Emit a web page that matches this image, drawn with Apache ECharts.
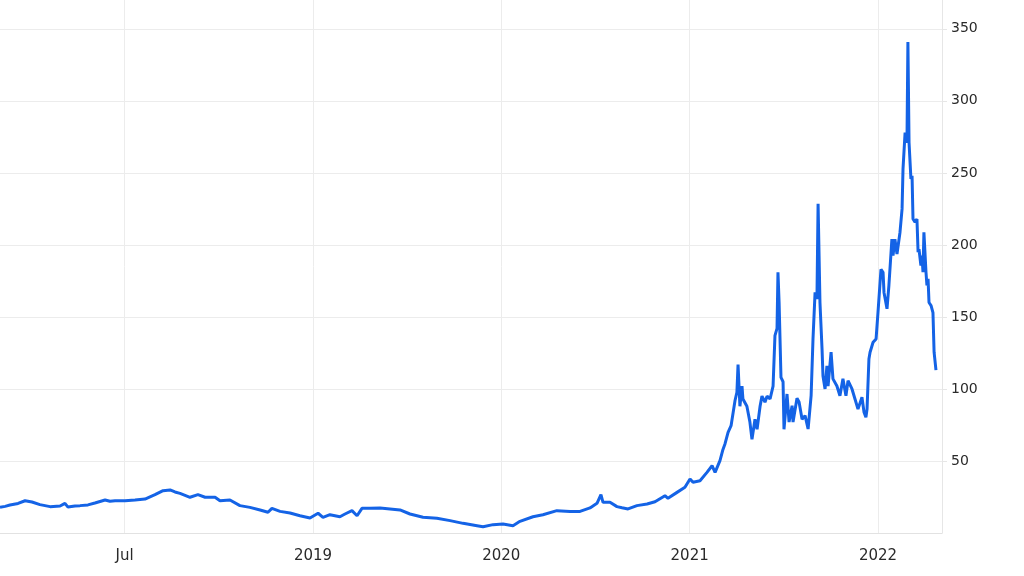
<!DOCTYPE html>
<html>
<head>
<meta charset="utf-8">
<script src="https://cdn.jsdelivr.net/npm/echarts@6/dist/echarts.min.js"></script>
<style>
html,body{margin:0;padding:0;background:#fff;}
#chart{width:1024px;height:576px;}
</style>
</head>
<body>
<div id="chart"></div>
<script>
// time in fractional years
const times = [
2017.338,2017.365,2017.391,2017.434,2017.471,2017.508,2017.550,2017.604,2017.657,2017.683,
2017.699,2017.736,2017.763,2017.805,2017.842,2017.896,2017.922,2017.949,2018.002,2018.055,
2018.108,2018.161,2018.204,2018.241,2018.267,2018.294,2018.347,2018.389,2018.427,2018.480,
2018.506,2018.559,2018.612,2018.665,2018.719,2018.761,2018.782,2018.825,2018.878,2018.931,
2018.984,2019.027,2019.053,2019.090,2019.143,2019.170,2019.207,2019.234,2019.260,2019.303,
2019.356,2019.409,2019.462,2019.515,2019.584,2019.658,2019.728,2019.797,2019.871,2019.903,
2019.956,2020.009,2020.062,2020.099,2020.168,2020.221,2020.295,2020.365,2020.418,2020.471,
2020.508,2020.529,2020.540,2020.577,2020.614,2020.641,2020.673,2020.720,2020.774,2020.816,
2020.869,2020.885,2020.933,2020.975,2021.002,2021.018,2021.055,2021.092,2021.119,2021.135,
2021.161,2021.177,2021.188,2021.204,2021.220,2021.230,2021.241,2021.251,2021.257,2021.267,
2021.278,2021.283,2021.304,2021.320,2021.331,2021.347,2021.358,2021.374,2021.384,2021.400,
2021.411,2021.427,2021.443,2021.453,2021.464,2021.469,2021.475,2021.485,2021.496,2021.501,
2021.517,2021.528,2021.544,2021.549,2021.570,2021.581,2021.597,2021.613,2021.629,2021.645,
2021.655,2021.666,2021.676,2021.682,2021.692,2021.703,2021.708,2021.719,2021.729,2021.735,
2021.751,2021.761,2021.782,2021.798,2021.814,2021.830,2021.841,2021.862,2021.878,2021.894,
2021.915,2021.926,2021.936,2021.942,2021.952,2021.958,2021.974,2021.990,2022.000,2022.016,
2022.027,2022.032,2022.048,2022.058,2022.074,2022.080,2022.090,2022.101,2022.117,2022.128,
2022.133,2022.144,2022.154,2022.159,2022.165,2022.175,2022.181,2022.186,2022.197,2022.207,
2022.213,2022.218,2022.228,2022.234,2022.239,2022.244,2022.255,2022.260,2022.266,2022.271,
2022.282,2022.292,2022.298,2022.308
];
const values = [
17.8,18.5,19.4,20.5,22.4,21.5,19.7,18.3,18.7,20.6,
18.0,18.8,19.0,19.5,20.8,22.9,22.0,22.4,22.4,22.9,
23.6,26.6,29.4,29.9,28.5,27.5,24.8,26.6,24.8,24.8,
22.4,22.9,19.0,17.8,16.0,14.4,17.1,15.0,13.9,12.0,
10.4,13.7,10.9,12.7,11.3,13.2,15.5,12.0,17.1,17.1,
17.4,16.7,16.0,13.2,10.9,10.2,8.6,6.7,5.1,4.4,
5.8,6.2,5.1,8.1,11.3,12.7,15.5,15.0,15.0,17.4,
20.6,26.6,21.3,21.3,18.3,17.5,16.7,19.0,20.1,21.7,
25.9,24.1,28.2,31.7,37.5,35.2,36.3,42.1,46.7,42.1,
50.2,58,62,69.9,74.5,73.4,92,97.7,117,88,
102,93,88,77,65,79,72,88,95,90.8,
95,93,102,137,142,181,160,108,105,72,
96.5,77,88.4,77,93.5,91,79,81.5,72.2,95.3,
134.7,167,162.5,228.5,160,127.8,109,100,116,102,
125.5,107,102,95.3,107,95.3,105.8,100,93,86,
94.2,83.8,80.3,86,120.8,125.5,132.4,134.7,153,183,
181,167,155.6,171.8,204,192.6,204,193.7,208.8,225,
252.8,278,271,340.8,271,245.8,248,218,215.8,218,
195,197,185.6,192.6,181,208.8,181,171.8,176.4,160,
157.9,153,125.5,113
];
const xTickValues = [2018, 2019, 2020, 2021, 2022];
const xTickLabels = ['Jul', '2019', '2020', '2021', '2022'];

const seriesData = times.map((t, i) => [t, values[i]]);

const chart = echarts.init(document.getElementById('chart'), null, {renderer: 'canvas'});
chart.setOption({
  animation: false,
  backgroundColor: '#ffffff',
  grid: {left: 0, right: 82, top: 0, bottom: 43, containLabel: false},
  xAxis: {
    type: 'value',
    min: 2017.338,
    max: 2022.34,
    splitNumber: 5,
    minInterval: 1,
    maxInterval: 1,
    axisLine: {show: true, lineStyle: {color: '#e2e2e2', width: 1}},
    axisTick: {show: false},
    axisLabel: {
      showMinLabel: false,
      showMaxLabel: false,
      margin: 16,
      color: '#2a2a2a',
      fontFamily: 'DejaVu Sans',
      fontSize: 15,
      formatter: function (v) {
        const k = xTickValues.findIndex(t => Math.abs(t - v) < 1e-6);
        return k >= 0 ? xTickLabels[k] : '';
      }
    },
    splitLine: {show: true, showMinLine: false, showMaxLine: false, lineStyle: {color: '#ececec', width: 1}}
  },
  yAxis: {
    type: 'value',
    position: 'right',
    min: 0,
    max: 370,
    interval: 50,
    axisLine: {show: true, lineStyle: {color: '#e6e6e6', width: 1}},
    axisTick: {show: true, length: 5, lineStyle: {color: '#e6e6e6'}},
    axisLabel: {
      showMinLabel: false,
      showMaxLabel: false,
      margin: 9,
      color: '#2a2a2a',
      fontFamily: 'DejaVu Sans',
      fontSize: 14
    },
    splitLine: {show: true, showMinLine: false, showMaxLine: false, lineStyle: {color: '#ececec', width: 1}}
  },
  series: [{
    type: 'line',
    data: seriesData,
    showSymbol: false,
    symbol: 'none',
    lineStyle: {color: '#1463e6', width: 3},
    emphasis: {disabled: true}
  }]
});
</script>
</body>
</html>
